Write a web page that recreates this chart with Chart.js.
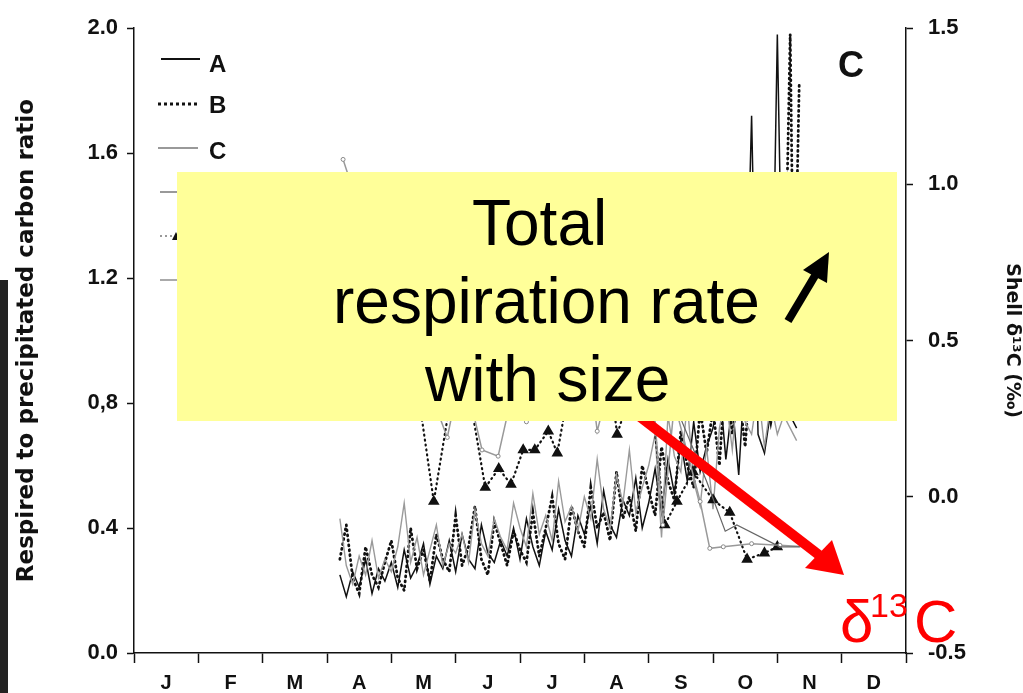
<!DOCTYPE html>
<html lang="en">
<head>
  <meta charset="UTF-8">
  <title>Respired to precipitated carbon ratio</title>
  <script src="https://cdn.jsdelivr.net/npm/chart.js"></script>
  <style>
    body {
      margin: 0;
      background: #fff;
      font-family: "Liberation Sans", Arial, sans-serif;
    }
    .page {
      position: relative;
      width: 1023px;
      height: 693px;
      overflow: hidden;
    }
    canvas { position: absolute; left: 0; top: 0; }
    .abs { position: absolute; white-space: nowrap; }
    .strip { left: 0; top: 280px; width: 8px; height: 413px; background: #232323; }
    .leg { font-weight: bold; font-size: 24px; line-height: 24px; color: #111; }
    .panel { left: 838px; top: 47px; font-weight: bold; font-size: 36px; line-height: 36px; color: #111; }
    .note {
      left: 177px; top: 172px; width: 720px; height: 249px;
      background: #ffff99;
    }
    .big { font-size: 64px; line-height: 78px; color: #000; }
    .red { color: #ff0000; font-size: 60px; line-height: 60px; }
    svg { position: absolute; left: 0; top: 0; }
  </style>
</head>
<body>
<div class="page">
  <canvas id="chart" width="1023" height="693"></canvas>
  <div class="abs strip"></div>

  <!-- legend and red arrow sit under the yellow note -->
  <svg width="1023" height="693">
    <line x1="161" y1="59" x2="200" y2="59" stroke="#111" stroke-width="2"/>
    <line x1="158" y1="104" x2="198" y2="104" stroke="#111" stroke-width="3" stroke-dasharray="3 3"/>
    <line x1="158" y1="148" x2="198" y2="148" stroke="#999" stroke-width="2"/>
    <line x1="160" y1="192" x2="198" y2="192" stroke="#999" stroke-width="2"/>
    <line x1="160" y1="236" x2="198" y2="236" stroke="#999" stroke-width="2" stroke-dasharray="2 3"/>
    <polygon points="176,232 172,240 180,240" fill="#111"/>
    <line x1="160" y1="280" x2="198" y2="280" stroke="#aaa" stroke-width="2"/>
    <line x1="600" y1="386" x2="819" y2="555" stroke="#ff0000" stroke-width="10"/>
    <polygon points="844,575 805,568 832,540" fill="#ff0000"/>
  </svg>
  <div class="abs leg" style="left:209px; top:52px;">A</div>
  <div class="abs leg" style="left:209px; top:93px;">B</div>
  <div class="abs leg" style="left:209px; top:139px;">C</div>
  <div class="abs panel">C</div>

  <div class="abs note"></div>
  <div class="abs big" style="left:472px; top:184px;">Total</div>
  <div class="abs big" style="left:333px; top:262px;">respiration rate</div>
  <div class="abs big" style="left:425px; top:340px;">with size</div>
  <svg width="1023" height="693">
    <line x1="788" y1="321" x2="816" y2="274" stroke="#000" stroke-width="8"/>
    <polygon points="829,252 803,270 827,283" fill="#000"/>
  </svg>

  <div class="abs red" style="left:840px; top:592px;">δ</div>
  <div class="abs red" style="left:870px; top:588px; font-size:34px; line-height:34px;">13</div>
  <div class="abs red" style="left:914px; top:592px;">C</div>
</div>
<script>
  const monthLabels = ['J', 'F', 'M', 'A', 'M', 'J', 'J', 'A', 'S', 'O', 'N', 'D'];

  // sample dates, in months from 1 January
  const sampleMonths = [
    3.2, 3.3, 3.4, 3.5, 3.6, 3.7, 3.8, 3.9,
    4.0, 4.1, 4.2, 4.3, 4.4, 4.5, 4.6, 4.7, 4.8, 4.9,
    5.0, 5.1, 5.2, 5.3, 5.4, 5.5, 5.6, 5.7, 5.8, 5.9,
    6.0, 6.1, 6.2, 6.3, 6.4, 6.5, 6.6, 6.7, 6.8, 6.9,
    7.0, 7.1, 7.2, 7.3, 7.4, 7.5, 7.6, 7.7, 7.8, 7.9,
    8.0, 8.1, 8.2, 8.3, 8.4, 8.5, 8.6, 8.7, 8.8, 8.9,
    9.0, 9.1, 9.2, 9.3, 9.4, 9.5, 9.6, 9.7, 9.8, 9.9,
    10.0, 10.1, 10.2, 10.3
  ];
  const monthsB = [
    3.2, 3.3, 3.4, 3.5, 3.6, 3.7, 3.8, 3.9,
    4.0, 4.1, 4.2, 4.3, 4.4, 4.5, 4.6, 4.7, 4.8, 4.9,
    5.0, 5.1, 5.2, 5.3, 5.4, 5.5, 5.6, 5.7, 5.8, 5.9,
    6.0, 6.1, 6.2, 6.3, 6.4, 6.5, 6.6, 6.7, 6.8, 6.9,
    7.0, 7.1, 7.2, 7.3, 7.4, 7.5, 7.6, 7.7, 7.8, 7.9,
    8.0, 8.1, 8.2, 8.3, 8.4, 8.5, 8.6, 8.7, 8.8, 8.9,
    9.0, 9.1, 9.2, 9.3, 9.4, 9.5, 9.6, 9.7, 9.8, 9.9,
    10.0, 10.1, 10.2, 10.26, 10.34
  ];

  // respired / precipitated carbon ratio (left axis)
  const ratioA = [
    0.25, 0.18, 0.26, 0.21, 0.30, 0.19, 0.27, 0.23,
    0.29, 0.21, 0.33, 0.24, 0.28, 0.35, 0.22, 0.31, 0.27, 0.36,
    0.26, 0.38, 0.30, 0.27, 0.41, 0.32, 0.29, 0.36, 0.31, 0.40,
    0.30, 0.43, 0.34, 0.28, 0.39, 0.33, 0.46, 0.36, 0.31, 0.44,
    0.38, 0.47, 0.35, 0.52, 0.41, 0.37, 0.49, 0.44, 0.56, 0.40,
    0.48, 0.59, 0.45, 0.62, 0.51, 0.68, 0.55, 0.74, 0.58, 0.66,
    0.72, 0.86, 0.62, 0.80, 0.57, 0.92, 1.72, 0.70, 0.64, 0.78,
    1.98, 0.84, 0.76, 0.72
  ];
  const ratioB = [
    0.30, 0.41, 0.24, 0.19, 0.34, 0.25, 0.21, 0.29,
    0.36, 0.24, 0.20, 0.40, 0.27, 0.33, 0.23, 0.38, 0.30, 0.26,
    0.44, 0.28, 0.34, 0.47, 0.30, 0.25, 0.42, 0.35, 0.28, 0.39,
    0.33, 0.29, 0.45, 0.31, 0.40, 0.50, 0.35, 0.30, 0.47, 0.39,
    0.34, 0.53, 0.40, 0.45, 0.36, 0.58, 0.43, 0.50, 0.39, 0.60,
    0.52, 0.44, 0.66, 0.55, 0.49, 0.71, 0.60, 0.53, 0.78, 0.64,
    0.78, 0.60, 0.92, 0.70, 0.84, 0.66, 0.95, 0.76, 0.88, 0.74,
    0.85, 0.95, 1.98, 1.00, 1.82
  ];
  const ratioC = [
    0.43, 0.28, 0.22, 0.31, 0.25, 0.36, 0.24, 0.30,
    0.26, 0.34, 0.48, 0.29, 0.37, 0.25, 0.33, 0.41, 0.28, 0.35,
    0.32, 0.38, 0.29, 0.46, 0.35, 0.31, 0.43, 0.37, 0.33, 0.48,
    0.40, 0.34, 0.51, 0.38, 0.44, 0.36, 0.55, 0.42, 0.47, 0.39,
    0.50, 0.43, 0.62, 0.46, 0.40, 0.57, 0.48, 0.65, 0.45, 0.53,
    0.60, 0.70, 0.37, 0.76, 0.63, 0.58, 0.80, 0.55, 0.47, 0.66,
    0.46, 0.72, 0.82, 0.65, 0.90, 0.74, 0.70, 0.84, 0.66, 0.80,
    0.70, 0.76, 0.72, 0.68
  ];

  // shell d13C (right axis)
  const deltaMonthsA = [3.25, 3.6, 4.0, 4.4, 4.87, 5.1, 5.41, 5.66, 5.9, 6.1, 6.4, 6.7, 7.0, 7.2, 7.5, 7.8, 8.0, 8.22, 8.4, 8.8, 8.95, 9.16, 9.6, 10.04, 10.43];
  const deltaA = [1.08, 0.86, 0.68, 0.45, 0.19, 0.42, 0.15, 0.13, 0.35, 0.24, 0.48, 0.30, 0.55, 0.21, 0.45, 0.33, 0.52, -0.09, 0.30, -0.015, -0.165, -0.16, -0.15, -0.155, -0.16];
  const deltaMonthsB = [3.22, 3.6, 4.0, 4.3, 4.66, 5.07, 5.46, 5.67, 5.86, 6.05, 6.23, 6.44, 6.58, 6.85, 7.09, 7.3, 7.51, 7.87, 8.05, 8.25, 8.44, 8.69, 9.0, 9.26, 9.53, 9.8, 10.0];
  const deltaB = [1.01, 0.88, 0.72, 0.50, -0.015, 0.50, 0.03, 0.09, 0.04, 0.15, 0.15, 0.21, 0.14, 0.45, 0.37, 0.55, 0.20, 0.43, 0.30, -0.09, -0.015, 0.08, -0.01, -0.05, -0.20, -0.18, -0.16];
  const deltaMonthsC = [3.3, 3.8, 4.3, 4.9, 5.5, 6.0, 6.5, 7.0, 7.5, 8.0, 8.5, 8.9, 9.19, 9.37, 10.04, 10.35];
  const deltaC = [1.00, 0.78, 0.60, 0.55, 0.40, 0.50, 0.35, 0.45, 0.30, 0.40, 0.25, 0.05, -0.11, -0.09, -0.16, -0.16];

  function pts(xs, ys) {
    return xs.map((x, i) => ({ x: x, y: ys[i] }));
  }

  const tickFont = { family: 'Liberation Sans', weight: 'bold', size: 22 };

  new Chart(document.getElementById('chart'), {
    type: 'scatter',
    data: {
      datasets: [
        { data: pts(deltaMonthsC, deltaC), yAxisID: 'y2', showLine: true, borderColor: '#666', borderWidth: 1.2, pointRadius: 0 },
        { data: pts(deltaMonthsA, deltaA), yAxisID: 'y2', showLine: true, borderColor: '#999', borderWidth: 1.5,
          pointRadius: 2, pointBackgroundColor: '#fff', pointBorderColor: '#888', pointBorderWidth: 1 },
        { data: pts(deltaMonthsB, deltaB), yAxisID: 'y2', showLine: true, borderColor: '#111', borderWidth: 2.2,
          borderDash: [1, 4], borderCapStyle: 'round',
          pointStyle: 'triangle', pointRadius: 4.5, pointBackgroundColor: '#111', pointBorderColor: '#111' },
        { data: pts(sampleMonths, ratioC), yAxisID: 'y', showLine: true, borderColor: '#9a9a9a', borderWidth: 1.4, pointRadius: 0 },
        { data: pts(monthsB, ratioB), yAxisID: 'y', showLine: true, borderColor: '#111', borderWidth: 2.8,
          borderDash: [1, 4], borderCapStyle: 'round', pointRadius: 0 },
        { data: pts(sampleMonths, ratioA), yAxisID: 'y', showLine: true, borderColor: '#111', borderWidth: 1.5, pointRadius: 0 }
      ]
    },
    options: {
      responsive: false,
      animation: false,
      layout: { padding: { top: 25, left: 0, right: 0, bottom: 0 } },
      plugins: { legend: { display: false }, tooltip: { enabled: false } },
      elements: { line: { tension: 0 } },
      scales: {
        x: {
          type: 'linear',
          min: 0,
          max: 12,
          afterFit: s => { s.height = 40; },
          border: { display: true, color: '#111', width: 1.5 },
          grid: {
            drawOnChartArea: false,
            tickLength: 10,
            tickWidth: 1.5,
            tickColor: ctx => (ctx.tick && ctx.tick.value % 1 === 0) ? '#111' : 'rgba(0,0,0,0)'
          },
          ticks: {
            stepSize: 0.5,
            autoSkip: false,
            maxRotation: 0,
            padding: 8,
            color: '#111',
            font: { family: 'Liberation Sans', weight: 'bold', size: 20 },
            callback: v => (v % 1 !== 0) ? monthLabels[Math.floor(v)] : ''
          }
        },
        y: {
          position: 'left',
          min: 0,
          max: 2,
          afterFit: s => { s.width = 134; },
          border: { display: true, color: '#111', width: 1.5 },
          grid: { drawOnChartArea: false, tickLength: 7, tickWidth: 1.5, tickColor: '#111' },
          ticks: {
            stepSize: 0.4,
            padding: 9,
            color: '#111',
            font: tickFont,
            callback: v => Math.abs(v - 0.8) < 1e-9 ? '0,8' : v.toFixed(1)
          },
          title: {
            display: true,
            text: 'Respired to precipitated carbon ratio',
            color: '#111',
            font: { family: 'DejaVu Sans', weight: 'bold', size: 23 },
            padding: { top: 13, bottom: 0 }
          }
        },
        y2: {
          position: 'right',
          min: -0.5,
          max: 1.5,
          afterFit: s => { s.width = 117; },
          border: { display: true, color: '#111', width: 1.5 },
          grid: { drawOnChartArea: false, tickLength: 7, tickWidth: 1.5, tickColor: '#111' },
          ticks: {
            stepSize: 0.5,
            padding: 15,
            color: '#111',
            font: tickFont,
            callback: v => v.toFixed(1)
          },
          title: {
            display: true,
            text: 'Shell δ¹³C (‰)',
            color: '#111',
            font: { family: 'DejaVu Sans', weight: 'bold', size: 19 },
            padding: { top: 0, bottom: 0 }
          }
        }
      }
    }
  });
</script>
</body>
</html>
